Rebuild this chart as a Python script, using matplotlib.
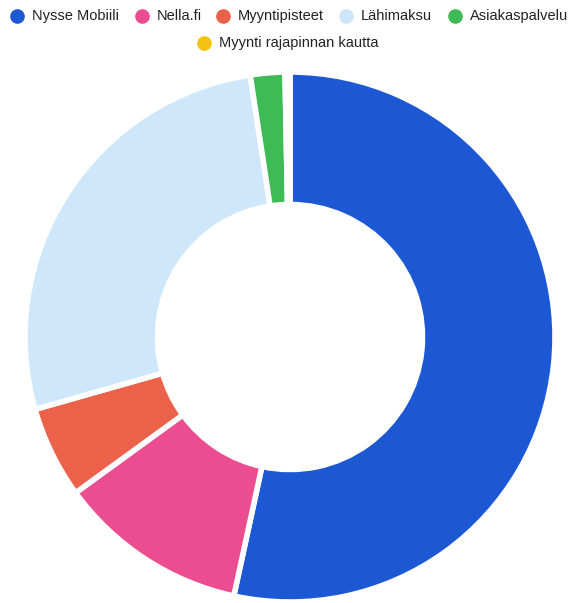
import matplotlib
matplotlib.use("Agg")
import matplotlib.pyplot as plt

labels = ["Nysse Mobiili", "Nella.fi", "Myyntipisteet", "Lähimaksu", "Asiakaspalvelu", "Myynti rajapinnan kautta"]
values = [53.4, 11.6, 5.6, 27.0, 2.1, 0.3]
colors = ["#1d58d4", "#ec4d90", "#eb6149", "#cfe7fa", "#3fbb55", "#f5c211"]

plt.rcParams['font.family'] = ['Liberation Sans', 'DejaVu Sans']

W, H = 574, 603
fig = plt.figure(figsize=(W / 100, H / 100), dpi=100)
ax = fig.add_axes([0, 0, 1, 1])

cx, cy, R = 290, H - 337, 265
wedges, _ = ax.pie(values, colors=colors, startangle=90, counterclock=False,
                   center=(cx, cy), radius=R, frame=True,
                   wedgeprops=dict(width=R * 0.5, edgecolor='white', linewidth=4))
# the tiniest slice is not visible in the reference (only a gap)
wedges[-1].set_facecolor('white')
ax.set_xlim(0, W)
ax.set_ylim(0, H)
ax.set_aspect('equal')
ax.axis('off')

# legend
leg_pos = [(17, 16), (142, 16), (223, 16), (346, 16), (455, 16), (204, 43)]
for (lx, ly), lab, col in zip(leg_pos, labels, colors):
    ax.plot([lx], [H - ly], marker='o', markersize=9.5, color=col, linestyle='none',
            clip_on=False)
    ax.text(lx + 15, H - ly, lab, fontsize=10.5, color='#222222', va='center', ha='left')

fig.savefig("out.png", dpi=100)
